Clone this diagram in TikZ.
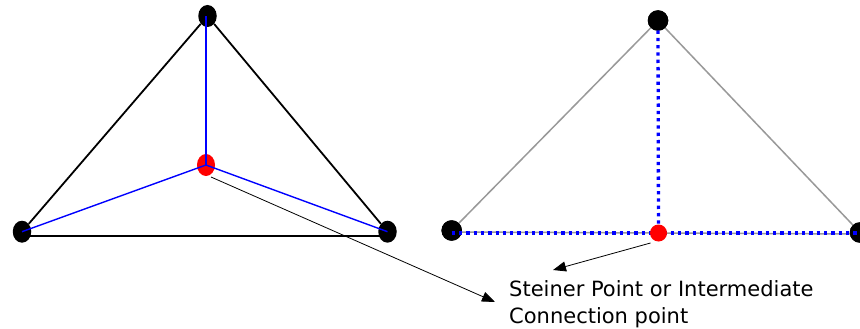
\documentclass[tikz,border=0pt]{standalone}
\usepackage{fontspec}
\newfontfamily\labfont{DejaVu Sans}
\usetikzlibrary{arrows.meta,shapes.geometric}
\definecolor{edgegray}{HTML}{999999}
\begin{document}
\begin{tikzpicture}[x=1pt,y=-1pt,
  vtx/.style={ellipse,fill=black,inner sep=0pt,minimum width=18.5pt,minimum height=22pt},
  vtxr/.style={circle,fill=black,inner sep=0pt,minimum size=20.5pt},
  steinL/.style={ellipse,fill=red,inner sep=0pt,minimum width=18pt,minimum height=22pt},
  steinR/.style={circle,fill=red,inner sep=0pt,minimum size=17pt},
  blackedge/.style={draw=black,line width=1.8pt},
  grayedge/.style={draw=edgegray,line width=1.5pt},
  blueedge/.style={draw=blue,line width=1.4pt},
  bluedot/.style={draw=blue,line width=3.3pt,dash pattern=on 3.3pt off 4pt},
  pointer/.style={draw=black,line width=0.8pt,-{Triangle[length=13pt,width=10pt]}},
  lab/.style={font=\labfont\fontsize{21}{27}\selectfont,align=left,inner sep=0pt}
]
\fill[white] (0,0) rectangle (860,329);
\useasboundingbox (0,0) rectangle (860,329);

% ---------- left triangle ----------
\node[vtx] (lt) at (207.5,16) {};
\node[vtx] (ll) at (22,231.7) {};
\node[vtx] (lr) at (387.5,231.7) {};
\node[steinL] (ls) at (206,165) {};

\draw[blackedge] (lt) -- (ll);
\draw[blackedge] (lt) -- (lr);
\draw[blackedge] ([yshift=-4.5pt]ll.center) -- ([yshift=-4.5pt]lr.center);

\draw[blueedge] (ls.center) -- (ls.center |- lt.center);
\draw[blueedge] (ls.center) -- (ll.center);
\draw[blueedge] (ls.center) -- (lr.center);

% ---------- right triangle ----------
\node[vtxr] (rt) at (658,20.5) {};
\node[vtxr] (rl) at (451.7,230.5) {};
\node[vtxr] (rr) at (860,232.5) {};

\draw[grayedge] (rt) -- (rl);
\draw[grayedge] (rt) -- (rr);
\draw[grayedge] ([yshift=-1.5pt]rl.center) -- ([yshift=-1.5pt]rr.center);

\node[vtxr] at (rt) {};
\node[vtxr] at (rl) {};
\node[vtxr] at (rr) {};

\coordinate (rsc) at (658.5,233);
\draw[bluedot] ([yshift=-2.5pt]rl.center) -- ([yshift=-0.5pt]rr.center);
\draw[bluedot] ([yshift=-10pt]rt.center) -- (rsc);
\node[steinR] (rs) at (rsc) {};

% ---------- label and pointers ----------
\node[lab,anchor=base west] (txt) at (509,323) {Steiner Point or Intermediate\\Connection point};
\coordinate (tipL) at (495,302);
\coordinate (tipR) at (553,270);
\draw[pointer] ([shift={(5pt,-12pt)}]ls.center) -- (tipL);
\draw[pointer] ([shift={(-8pt,-10pt)}]rs.center) -- (tipR);
\end{tikzpicture}
\end{document}
